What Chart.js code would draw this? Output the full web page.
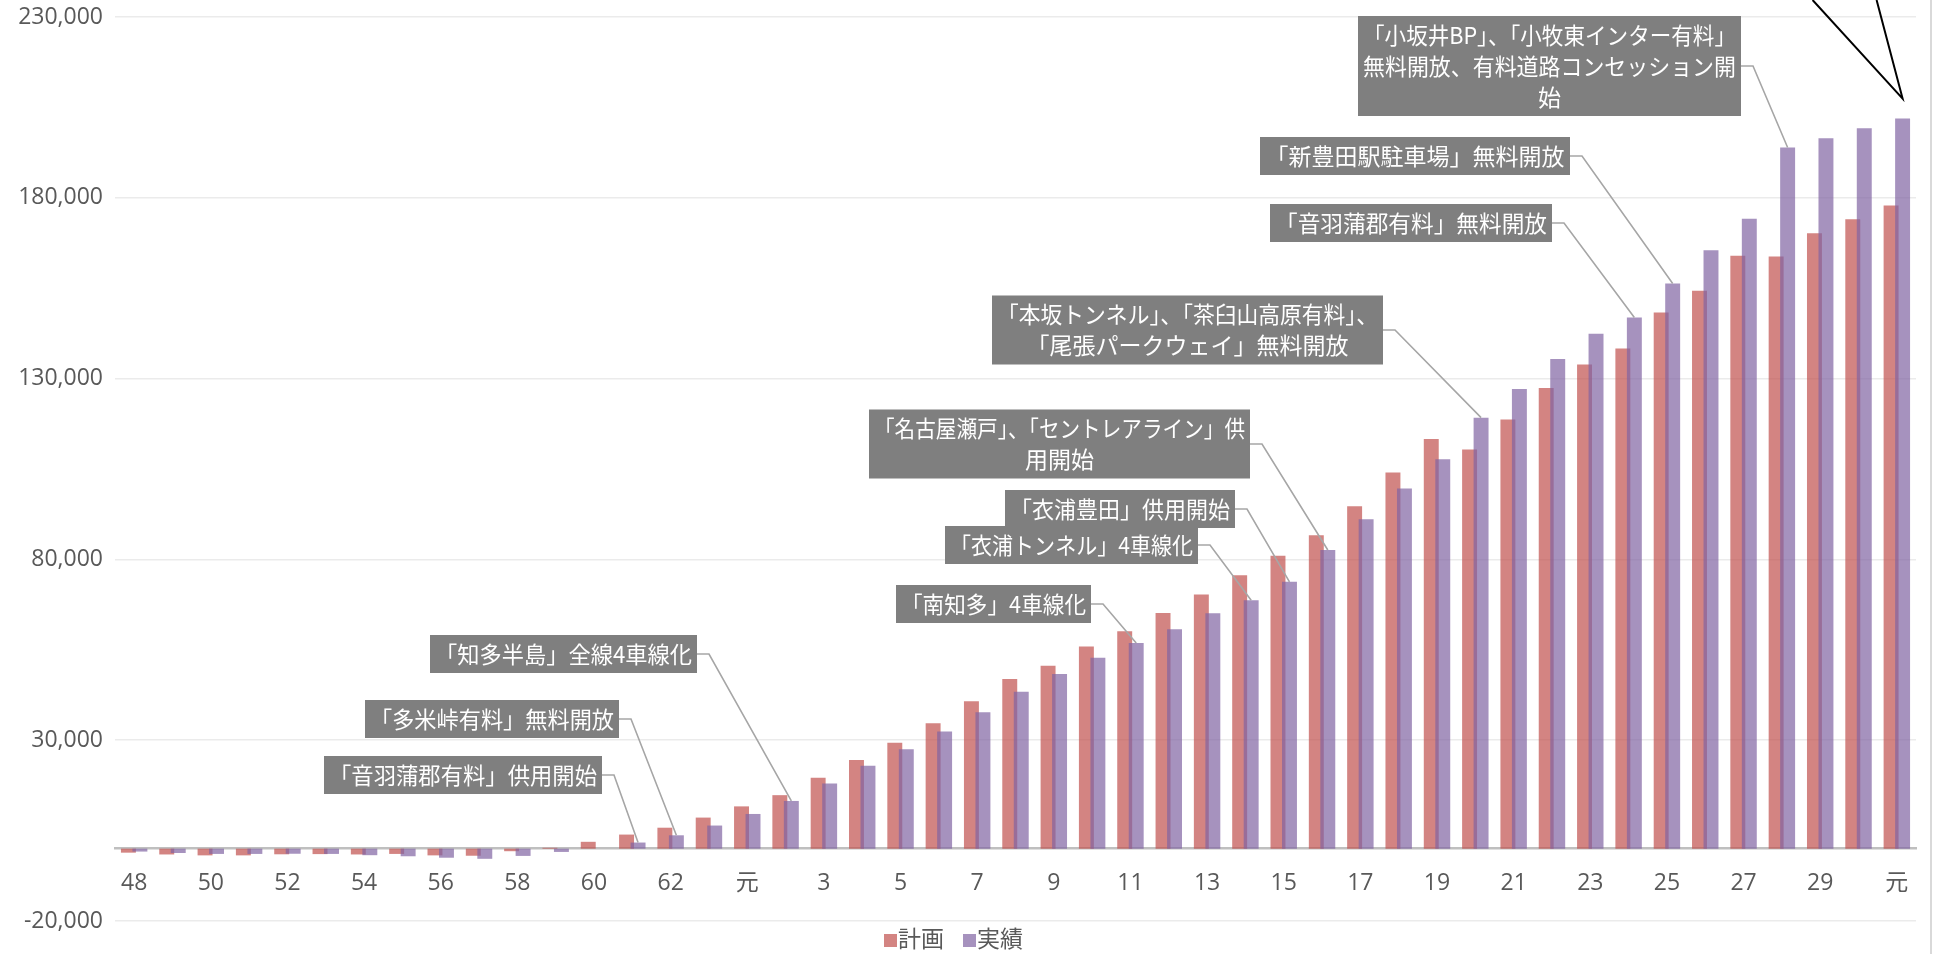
<!DOCTYPE html>
<html lang="ja">
  <head>
    <meta charset="UTF-8" />
    <meta name="viewport" content="width=device-width, initial-scale=1.0" />
    <title>計画・実績</title>
    <style>
      html, body { margin: 0; padding: 0; background: #fff; }
      #main-container { width: 1935px; height: 954px; position: relative; }
    </style>
  </head>
  <body>
    <div id="main-container"><canvas id="myChart"></canvas></div>

    <script src="https://cdn.jsdelivr.net/npm/chart.js"></script>

    <script>
      // 年度 (昭和48 ～ 平成30, 令和元)
      const years = [
        "48", "49", "50", "51", "52", "53", "54", "55", "56", "57", "58", "59", "60", "61", "62", "63",
        "元", "2", "3", "4", "5", "6", "7", "8", "9", "10", "11", "12", "13", "14", "15",
        "16", "17", "18", "19", "20", "21", "22", "23", "24", "25", "26", "27", "28", "29", "30",
        "元",
      ];

      const plan = [
        -1100, -1600, -1850, -1850, -1550, -1500, -1600, -1450, -1850, -1950, -700, 250, 1900, 3900, 5800, 8600,
        11700, 14800, 19600, 24500, 29300, 34700, 40800, 46900, 50600, 55900, 60100, 65200, 70300, 75600, 81000,
        86700, 94700, 104000, 113300, 110400, 118700, 127400, 133900, 138300, 148300, 154300, 164000, 163800, 170200, 174100,
        177900,
      ];

      const actual = [
        -800, -1200, -1450, -1450, -1400, -1450, -1800, -2100, -2500, -2800, -2000, -900, 0, 1700, 3700, 6400,
        9600, 13200, 18000, 22900, 27500, 32400, 37700, 43400, 48300, 52800, 56900, 60700, 65100, 68700, 73800,
        82600, 91100, 99600, 107700, 119200, 127100, 135400, 142400, 146900, 156300, 165500, 174200, 193900, 196500, 199200,
        201900,
      ];

      const yTicks = [-20000, 30000, 80000, 130000, 180000, 230000];

      const seriesNames = ["計画", "実績"];
      const seriesColors = ["rgba(192,80,77,0.7)", "rgba(128,100,162,0.7)"];

      // 吹き出し (index = 指す年度)
      const notes = [
        { lines: ["「音羽蒲郡有料」供用開始"], index: 13, right: 602, cy: 775, w: 278 },
        { lines: ["「多米峠有料」無料開放"], index: 14, right: 619, cy: 719, w: 254 },
        { lines: ["「知多半島」全線4車線化"], index: 17, right: 697, cy: 654, w: 267 },
        { lines: ["「南知多」4車線化"], index: 26, right: 1091, cy: 604, w: 195 },
        { lines: ["「衣浦トンネル」4車線化"], index: 29, right: 1198, cy: 545, w: 253 },
        { lines: ["「衣浦豊田」供用開始"], index: 30, right: 1235, cy: 509, w: 230 },
        { lines: ["「名古屋瀬戸」、「セントレアライン」供", "用開始"], index: 31, right: 1250, cy: 444, w: 381 },
        { lines: ["「本坂トンネル」、「茶臼山高原有料」、", "「尾張パークウェイ」無料開放"], index: 35, right: 1383, cy: 330, w: 391 },
        { lines: ["「音羽蒲郡有料」無料開放"], index: 39, right: 1552, cy: 223, w: 282 },
        { lines: ["「新豊田駅駐車場」無料開放"], index: 40, right: 1570, cy: 156, w: 310 },
        { lines: ["「小坂井BP」、「小牧東インター有料」", "無料開放、有料道路コンセッション開", "始"], index: 43, right: 1741, cy: 66, w: 383 },
      ];

      const fontFamily = "'Open Sans', 'Noto Sans CJK JP', sans-serif";

      // 実績を計画の上に重ねて描く
      const drawOrder = {
        id: "drawOrder",
        beforeDatasetDraw(chart, args) {
          if (args.index === 1 && !chart.$late) return false;
        },
        afterDatasetsDraw(chart) {
          const meta = chart.getDatasetMeta(1);
          chart.$late = true;
          if (chart._drawDataset) chart._drawDataset(meta);
          else meta.controller.draw();
          chart.$late = false;
        },
      };

      const extras = {
        id: "extras",
        afterDraw(chart) {
          const ctx = chart.ctx;
          const bars = chart.getDatasetMeta(1).data;
          ctx.save();

          notes.forEach((n) => {
            const bar = bars[n.index];
            ctx.strokeStyle = "#A6A6A6";
            ctx.lineWidth = 1.6;
            ctx.beginPath();
            ctx.moveTo(n.right, n.cy);
            ctx.lineTo(n.right + 12, n.cy);
            ctx.lineTo(bar.x, bar.y);
            ctx.stroke();

            const h = n.lines.length * 31 + 7;
            ctx.fillStyle = "#7F7F7F";
            ctx.fillRect(n.right - n.w, n.cy - h / 2, n.w, h);
            ctx.fillStyle = "#FFFFFF";
            ctx.font = "23px 'Noto Sans CJK JP'";
            ctx.textAlign = "center";
            ctx.textBaseline = "middle";
            n.lines.forEach((t, k) => {
              const y = n.cy + (k - (n.lines.length - 1) / 2) * 31;
              ctx.fillText(t, n.right - n.w / 2, y, n.w - 10);
            });
          });

          // 上の吹き出しのしっぽ
          const last = bars[bars.length - 1];
          ctx.strokeStyle = "#000";
          ctx.lineWidth = 2;
          ctx.beginPath();
          ctx.moveTo(last.x - 90, 0);
          ctx.lineTo(last.x, last.y - 20);
          ctx.lineTo(last.x - 26, 0);
          ctx.stroke();

          // 右枠
          ctx.strokeStyle = "#D9D9D9";
          ctx.lineWidth = 2;
          ctx.beginPath();
          ctx.moveTo(1931, 0);
          ctx.lineTo(1931, chart.height);
          ctx.stroke();

          // 凡例
          ctx.font = "23px " + fontFamily;
          ctx.textAlign = "left";
          ctx.textBaseline = "middle";
          let x = 884;
          const ly = 940;
          seriesNames.forEach((name, i) => {
            ctx.fillStyle = seriesColors[i];
            ctx.fillRect(x, ly - 6, 13, 13);
            ctx.fillStyle = "#595959";
            ctx.fillText(name, x + 14, ly);
            x += 14 + ctx.measureText(name).width + 19;
          });

          ctx.restore();
        },
      };

      const ctx = document.getElementById("myChart");
      new Chart(ctx, {
        type: "bar",
        data: {
          labels: years,
          datasets: seriesNames.map((name, i) => ({
            label: name,
            data: i === 0 ? plan : actual,
            backgroundColor: seriesColors[i],
            borderWidth: 0,
            categoryPercentage: 0.6,
            barPercentage: 1.3,
          })),
        },
        options: {
          responsive: true,
          maintainAspectRatio: false,
          animation: false,
          layout: { padding: { top: 17, right: 19, bottom: 33, left: 0 } },
          plugins: {
            legend: { display: false },
            tooltip: { enabled: false },
          },
          scales: {
            x: {
              position: { y: 0 },
              grid: { display: false, drawTicks: false },
              border: { display: true, color: "#BFBFBF", width: 2.5 },
              ticks: {
                autoSkip: false,
                maxRotation: 0,
                padding: 21,
                color: "#595959",
                font: { family: fontFamily, size: 23 },
                callback: (v, i) => (i % 2 === 0 ? years[i] : ""),
              },
            },
            y: {
              min: -20000,
              max: 230000,
              afterBuildTicks: (scale) => {
                scale.ticks = yTicks.map((v) => ({ value: v }));
              },
              afterFit: (scale) => {
                scale.width = 115;
                scale.paddingTop = 0;
                scale.paddingBottom = 0;
              },
              grid: { color: "#EBEBEB", lineWidth: 1.5, drawTicks: false },
              border: { display: false },
              ticks: {
                padding: 12,
                color: "#595959",
                font: { family: fontFamily, size: 23 },
                callback: (v) => v.toLocaleString("en-US"),
              },
            },
          },
        },
        plugins: [drawOrder, extras],
      });
    </script>
  </body>
</html>
